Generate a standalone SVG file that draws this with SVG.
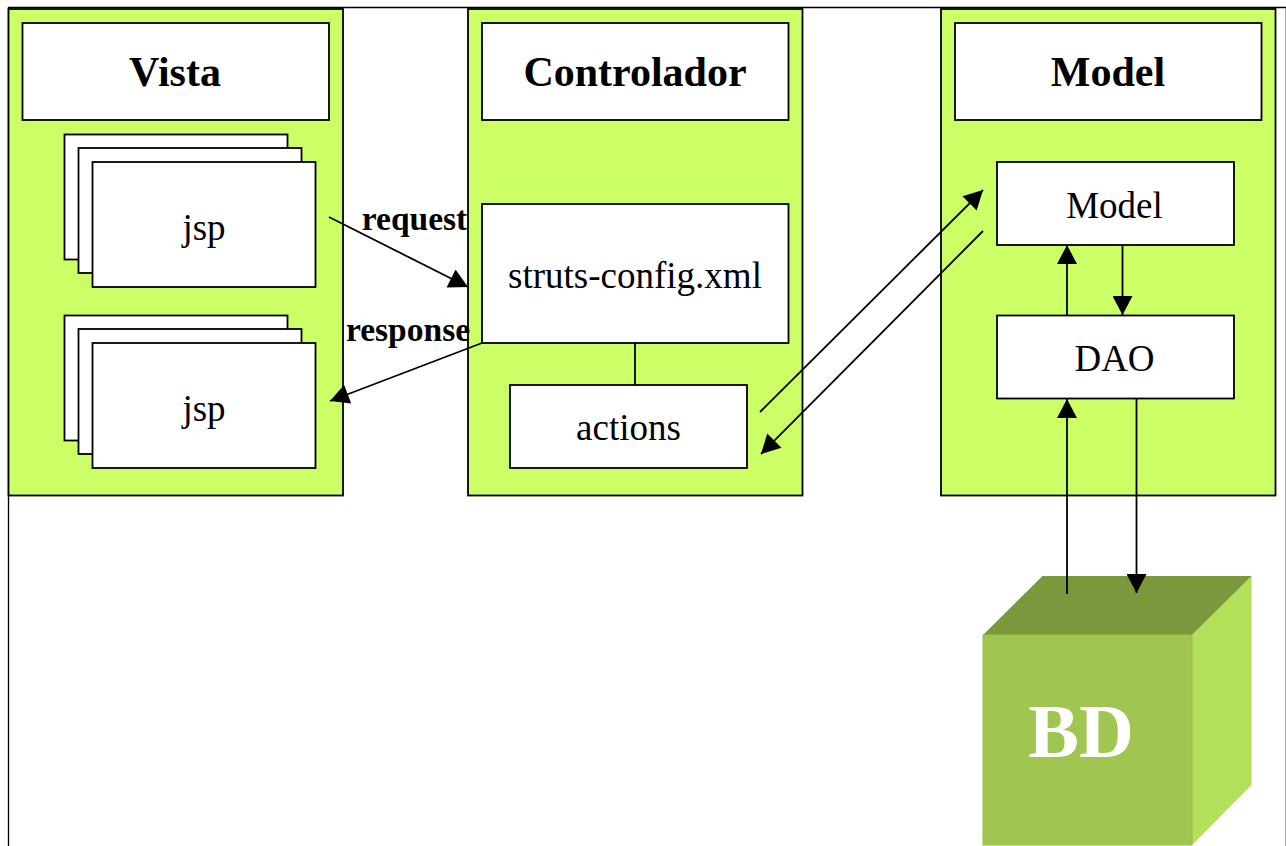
<svg xmlns="http://www.w3.org/2000/svg" width="1286" height="846" viewBox="0 0 1286 846">
<style>
.panel{fill:#ccff66;stroke:#000;stroke-width:1.8}
.box{fill:#fff;stroke:#000;stroke-width:1.8}
text{font-family:"Liberation Serif","Times New Roman",serif;fill:#000;text-anchor:middle}
.title{font-size:42px;font-weight:bold}
.lbl{font-size:37px}
.edge{font-size:33.500px;font-weight:bold}
.c{fill:none;stroke:#000;stroke-width:1.800}
</style>
<defs>
<marker id="arrow" markerUnits="userSpaceOnUse" markerWidth="20" markerHeight="20" refX="18" refY="9.500" orient="auto" viewBox="0 0 18 19"><path d="M0 0L18 9.500L0 19Z" fill="#000"/></marker>
</defs>
<rect width="1286" height="846" fill="#fff"/>
<path id="frame" d="M8.500 846V7.500H1286" fill="none" stroke="#000" stroke-width="1.300"/>
<path id="frameRight" d="M1285.500 8V846" fill="none" stroke="#aaa" stroke-width="1"/>
<g id="vista">
<rect class="panel" x="8.500" y="9" width="334.500" height="486.500"/>
<rect class="box" x="22.500" y="23" width="306.500" height="97"/>
<text class="title" x="175" y="86">Vista</text>
</g>
<g id="jsp1">
<rect class="box" x="64.500" y="134.500" width="223" height="125"/>
<rect class="box" x="78.500" y="148" width="223" height="125"/>
<rect class="box" x="92.500" y="162" width="223" height="125"/>
<text class="lbl" x="204" y="240">jsp</text>
</g>
<g id="jsp2">
<rect class="box" x="64.500" y="315.500" width="223" height="125"/>
<rect class="box" x="78.500" y="329" width="223" height="125"/>
<rect class="box" x="92.500" y="343" width="223" height="125"/>
<text class="lbl" x="204" y="421">jsp</text>
</g>
<g id="controlador">
<rect class="panel" x="468" y="9" width="334.500" height="486.500"/>
<rect class="box" x="482" y="23" width="306.500" height="97"/>
<text class="title" x="635" y="86">Controlador</text>
</g>
<g id="struts">
<rect class="box" x="482" y="204" width="306.500" height="139"/>
<text class="lbl" x="635" y="288">struts-config.xml</text>
</g>
<g id="actions">
<rect class="box" x="510" y="385" width="237" height="83"/>
<text class="lbl" x="628.500" y="440">actions</text>
</g>
<g id="modelPanel">
<rect class="panel" x="941" y="9" width="334.500" height="486.500"/>
<rect class="box" x="955" y="23" width="306.500" height="97"/>
<text class="title" x="1108" y="86">Model</text>
</g>
<g id="model">
<rect class="box" x="997" y="162" width="237" height="83"/>
<text class="lbl" x="1114.500" y="218">Model</text>
</g>
<g id="dao">
<rect class="box" x="997" y="315.500" width="237" height="83"/>
<text class="lbl" x="1114.500" y="371">DAO</text>
</g>
<g id="bd">
<path d="M1192 845V635L1251.500 576V785Z" fill="#b2e159"/>
<path d="M983 635L1042.500 576H1251.500L1192 635Z" fill="#7c983c"/>
<rect x="983" y="635" width="209" height="210" fill="#a0c651" stroke="#98c048" stroke-width="1"/>
<text x="1081" y="757" font-size="76" font-weight="bold" style="fill:#fff">BD</text>
</g>
<g id="connectors">
<path class="c" d="M329 217L468 287" marker-end="url(#arrow)"/>
<path class="c" d="M482 343L330 401" marker-end="url(#arrow)"/>
<path class="c" d="M635 343V385"/>
<path class="c" d="M760 412L983 190" marker-end="url(#arrow)"/>
<path class="c" d="M983 231L761 454" marker-end="url(#arrow)"/>
<path class="c" d="M1067 315V245" marker-end="url(#arrow)"/>
<path class="c" d="M1122.500 245V315" marker-end="url(#arrow)"/>
<path class="c" d="M1067 594V399" marker-end="url(#arrow)"/>
<path class="c" d="M1136.500 399V593" marker-end="url(#arrow)"/>
</g>
<text class="edge" x="414.500" y="230">request</text>
<text class="edge" x="408" y="341">response</text>
</svg>
